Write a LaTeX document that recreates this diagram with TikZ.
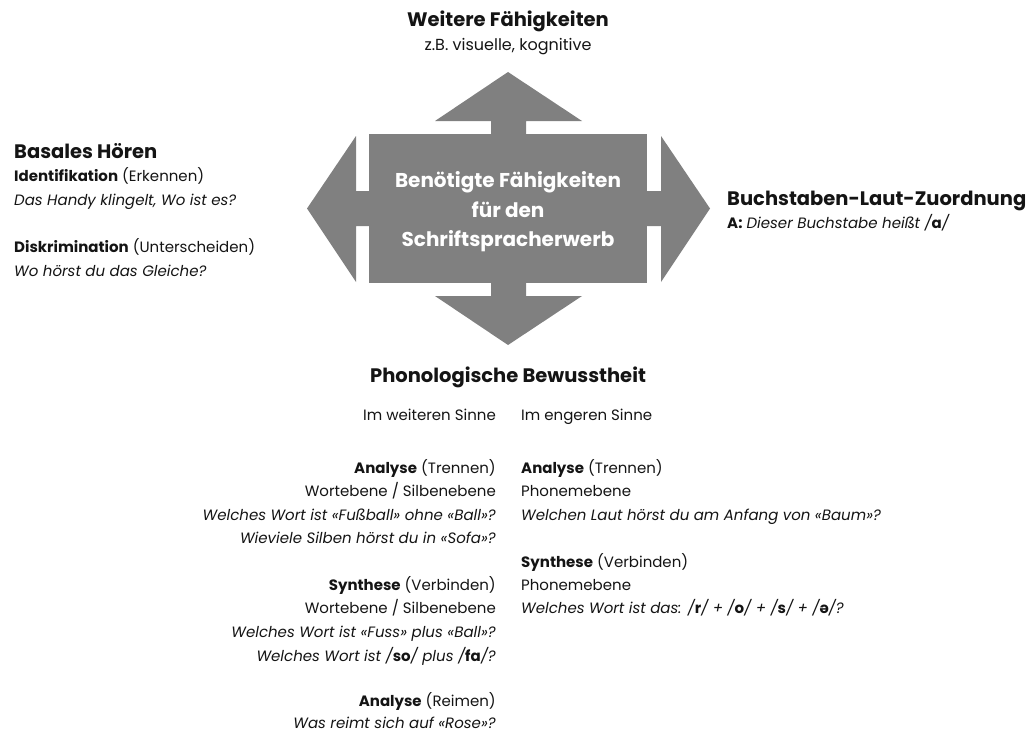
\documentclass[tikz,border=0pt]{standalone}
\usepackage{fontspec}
\setmainfont{Poppins}
\definecolor{shapegray}{RGB}{128,128,128}
\definecolor{ink}{RGB}{20,20,20}
\tikzset{
  head/.style={font=\fontsize{19.5}{23}\selectfont\bfseries, text=ink, inner sep=0pt},
  body/.style={font=\fontsize{15}{18}\selectfont, text=ink, inner sep=0pt},
  lft/.style={body, anchor=base east},
  rgt/.style={body, anchor=base west},
  arr/.style={fill=shapegray, draw=none}
}
\begin{document}
\begin{tikzpicture}[x=1pt,y=-1pt]
\useasboundingbox (0,0) rectangle (1032,733);
% central shape
\node[fill=shapegray, minimum width=278pt, minimum height=149pt, inner sep=0pt, anchor=north west] (center) at (369,134) {};
\node[text=white, align=center, inner sep=0pt, font=\fontsize{20}{29.5}\selectfont\bfseries] (ctext) at (508,212)
      {Benötigte Fähigkeiten\\für den\\Schriftspracherwerb};
\fill[arr] (491,134) -- (491,121) -- (435,121) -- (508,72) -- (582,121) -- (526,121) -- (526,134) -- cycle;
\fill[arr] (491,283) -- (491,296) -- (435,296) -- (508,345) -- (582,296) -- (526,296) -- (526,283) -- cycle;
\fill[arr] (369,191) -- (356,191) -- (356,136) -- (307,208.5) -- (356,282) -- (356,226) -- (369,226) -- cycle;
\fill[arr] (647,191) -- (661,191) -- (661,136) -- (710,208.5) -- (661,282) -- (661,226) -- (647,226) -- cycle;
% top
\node[head, anchor=base] (wf) at (508,27) {Weitere Fähigkeiten};
\node[body, font=\fontsize{16}{18}\selectfont, anchor=base] (wf1) at (508,51) {z.B. visuelle, kognitive};
% left
\node[head, anchor=base west] (bh) at (14,158) {Basales Hören};
\node[rgt] (bh1) at (14,181) {\textbf{Identifikation} (Erkennen)};
\node[rgt] (bh2) at (14,205) {\itshape Das Handy klingelt, Wo ist es?};
\node[rgt] (bh3) at (14,252) {\textbf{Diskrimination} (Unterscheiden)};
\node[rgt] (bh4) at (14,276) {\itshape Wo hörst du das Gleiche?};
% right
\node[head, anchor=base west] (bl) at (727,205) {Buchstaben-Laut-Zuordnung};
\node[rgt] (bl1) at (727,228) {\textbf{A:} \itshape Dieser Buchstabe heißt /\textbf{\upshape a}/};
% bottom
\node[head, anchor=base] (pb) at (508,382) {Phonologische Bewusstheit};
\node[lft] (w0) at (496,420) {Im weiteren Sinne};
\node[rgt] (e0) at (521,420) {Im engeren Sinne};
\node[lft] (w1) at (496,473) {\textbf{Analyse} (Trennen)};
\node[lft] (w2) at (496,496) {Wortebene / Silbenebene};
\node[lft] (w3) at (496,520) {\itshape Welches Wort ist «Fußball» ohne «Ball»?};
\node[lft] (w4) at (496,543) {\itshape Wieviele Silben hörst du in «Sofa»?};
\node[lft] (w5) at (496,590) {\textbf{Synthese} (Verbinden)};
\node[lft] (w6) at (496,613) {Wortebene / Silbenebene};
\node[lft] (w7) at (496,637) {\itshape Welches Wort ist «Fuss» plus «Ball»?};
\node[lft] (w8) at (496,661) {\itshape Welches Wort ist /\textbf{\upshape so}/ plus /\textbf{\upshape fa}/?};
\node[lft] (w9) at (496,706) {\textbf{Analyse} (Reimen)};
\node[lft] (w10) at (496,728) {\itshape Was reimt sich auf «Rose»?};
\node[rgt] (e1) at (521,473) {\textbf{Analyse} (Trennen)};
\node[rgt] (e2) at (521,496) {Phonemebene};
\node[rgt] (e3) at (521,520) {\itshape Welchen Laut hörst du am Anfang von «Baum»?};
\node[rgt] (e4) at (521,567) {\textbf{Synthese} (Verbinden)};
\node[rgt] (e5) at (521,590) {Phonemebene};
\node[rgt] (e6) at (521,613) {\itshape Welches Wort ist das: /\textbf{\upshape r}/ + /\textbf{\upshape o}/ + /\textbf{\upshape s}/ + /\textbf{\upshape ə}/?};
\end{tikzpicture}
\end{document}
